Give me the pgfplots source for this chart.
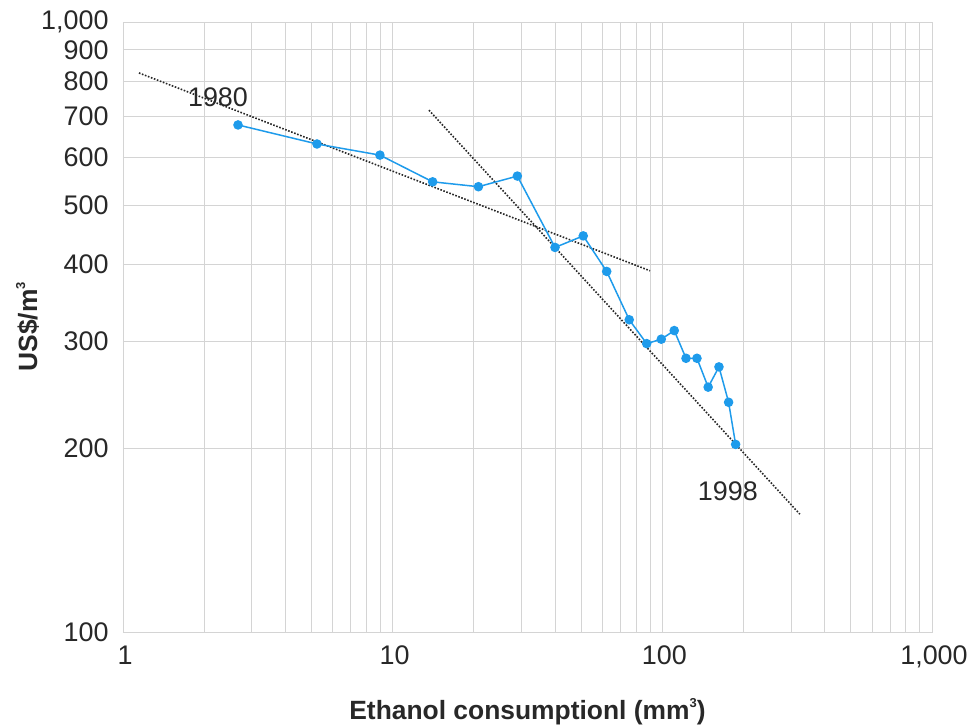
\documentclass[border=0pt]{standalone}
\usepackage{fontspec}
\setmainfont{Liberation Sans}
\usepackage{pgfplots}
\pgfplotsset{compat=1.18}
\definecolor{ptblue}{RGB}{30,155,235}
\definecolor{gridgray}{RGB}{212,212,212}
\definecolor{txt}{RGB}{40,40,40}
\newcommand{\supthree}{\raisebox{0.85ex}{\fontsize{13}{13}\selectfont 3}}
\begin{document}
\begin{tikzpicture}
\path[use as bounding box] (-123bp,-95bp) rectangle (851bp,632bp);
\begin{axis}[
  at={(0,0)}, anchor=south west,
  scale only axis, width=809bp, height=610bp,
  xmode=log, ymode=log,
  xmin=1, xmax=1000, ymin=100, ymax=1000,
  xtick={1,10,100,1000},
  xticklabels={1,10,100,{1,000}},
  minor xtick={2,3,4,5,6,7,8,9,20,30,40,50,60,70,80,90,200,300,400,500,600,700,800,900},
  ytick={100,200,300,400,500,600,700,800,900,1000},
  yticklabels={100,200,300,400,500,600,700,800,900,{1,000}},
  minor ytick={},
  xmajorgrids, xminorgrids, ymajorgrids,
  grid style={gridgray, line width=0.8bp},
  minor grid style={gridgray, line width=0.8bp},
  axis line style={gridgray, line width=0.8bp},
  major tick length=0pt, minor tick length=0pt,
  tick label style={font=\fontsize{27}{31}\selectfont, text=txt},
  xticklabel style={yshift=-10bp, xshift=2bp},
  yticklabel style={xshift=-11bp},
  xlabel={\textbf{Ethanol consumptionl (mm\supthree)}},
  ylabel={\textbf{US\$/m\supthree}},
  label style={font=\fontsize{26.5}{30}\selectfont, text=txt},
  xlabel style={at={(axis description cs:0.5,-0.131)}, anchor=center},
  ylabel style={at={(axis description cs:-0.118,0.5)}, anchor=center, rotate=0},
  clip=false,
]
\addplot[black!85, dotted, line width=1.6bp, dash pattern=on 1.6bp off 1.6bp] coordinates {(1.146,825) (90.0,391)};
\addplot[black!85, dotted, line width=1.6bp, dash pattern=on 1.6bp off 1.6bp] coordinates {(13.63,717) (323.6,156)};
\addplot[ptblue, line width=1.5bp, mark=*, mark size=4bp, mark options={fill=ptblue, draw=ptblue}] coordinates {
(2.67,678) (5.24,631) (8.97,605) (14.07,547) (20.8,537) (29.0,559)
(40.0,427) (50.9,446) (62.2,390) (75.4,325) (87.5,297) (99.1,302)
(110.7,312) (122.4,281) (134.4,281) (147.9,252) (162.2,272) (176.1,238) (187.0,203)
};
\node[font=\fontsize{27}{31}\selectfont, text=txt] at (axis cs:2.25,754) {1980};
\node[font=\fontsize{27}{31}\selectfont, text=txt] at (axis cs:175,170) {1998};
\end{axis}
\end{tikzpicture}
\end{document}
